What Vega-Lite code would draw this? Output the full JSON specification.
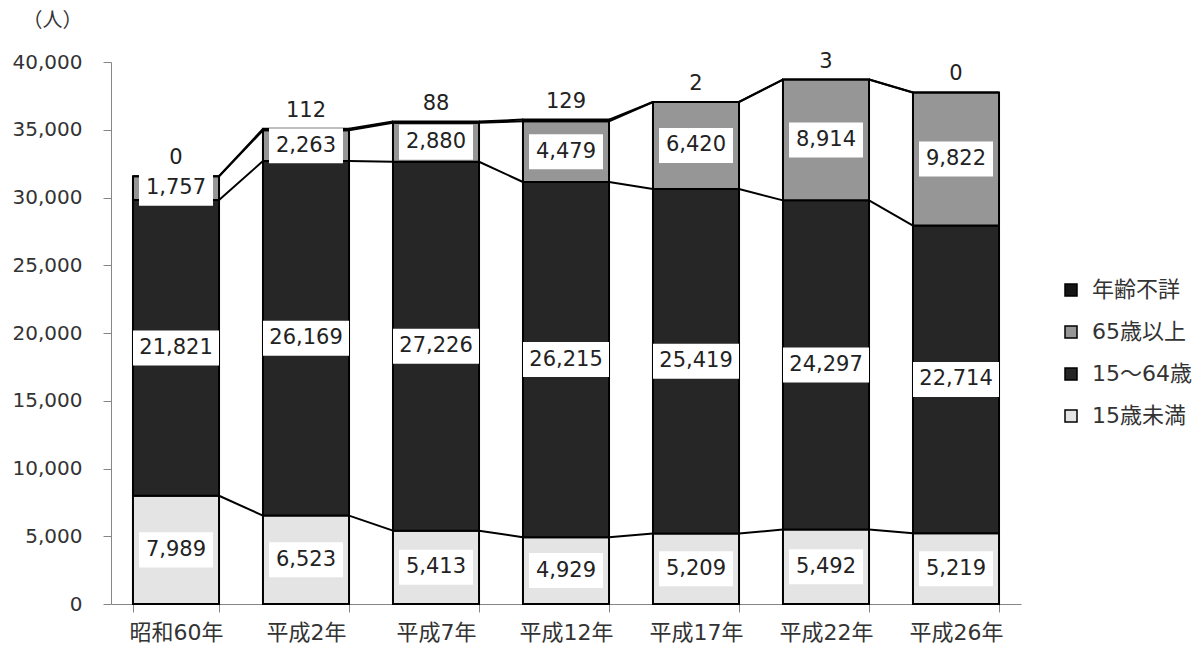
{
  "$schema": "https://vega.github.io/schema/vega-lite/v6.json",
  "width": 910,
  "height": 542,
  "autosize": {"type": "none"},
  "padding": {"left": 111, "top": 62, "right": 172, "bottom": 45},
  "background": "white",
  "config": {
    "view": {"stroke": null},
    "font": "DejaVu Sans, Noto Sans CJK JP"
  },
  "data": {
    "values": [
      {"year": "昭和60年", "yi": 0, "group": "15歳未満", "o": 1, "value": 7989},
      {"year": "昭和60年", "yi": 0, "group": "15～64歳", "o": 2, "value": 21821},
      {"year": "昭和60年", "yi": 0, "group": "65歳以上", "o": 3, "value": 1757},
      {"year": "昭和60年", "yi": 0, "group": "年齢不詳", "o": 4, "value": 0},
      {"year": "平成2年", "yi": 1, "group": "15歳未満", "o": 1, "value": 6523},
      {"year": "平成2年", "yi": 1, "group": "15～64歳", "o": 2, "value": 26169},
      {"year": "平成2年", "yi": 1, "group": "65歳以上", "o": 3, "value": 2263},
      {"year": "平成2年", "yi": 1, "group": "年齢不詳", "o": 4, "value": 112},
      {"year": "平成7年", "yi": 2, "group": "15歳未満", "o": 1, "value": 5413},
      {"year": "平成7年", "yi": 2, "group": "15～64歳", "o": 2, "value": 27226},
      {"year": "平成7年", "yi": 2, "group": "65歳以上", "o": 3, "value": 2880},
      {"year": "平成7年", "yi": 2, "group": "年齢不詳", "o": 4, "value": 88},
      {"year": "平成12年", "yi": 3, "group": "15歳未満", "o": 1, "value": 4929},
      {"year": "平成12年", "yi": 3, "group": "15～64歳", "o": 2, "value": 26215},
      {"year": "平成12年", "yi": 3, "group": "65歳以上", "o": 3, "value": 4479},
      {"year": "平成12年", "yi": 3, "group": "年齢不詳", "o": 4, "value": 129},
      {"year": "平成17年", "yi": 4, "group": "15歳未満", "o": 1, "value": 5209},
      {"year": "平成17年", "yi": 4, "group": "15～64歳", "o": 2, "value": 25419},
      {"year": "平成17年", "yi": 4, "group": "65歳以上", "o": 3, "value": 6420},
      {"year": "平成17年", "yi": 4, "group": "年齢不詳", "o": 4, "value": 2},
      {"year": "平成22年", "yi": 5, "group": "15歳未満", "o": 1, "value": 5492},
      {"year": "平成22年", "yi": 5, "group": "15～64歳", "o": 2, "value": 24297},
      {"year": "平成22年", "yi": 5, "group": "65歳以上", "o": 3, "value": 8914},
      {"year": "平成22年", "yi": 5, "group": "年齢不詳", "o": 4, "value": 3},
      {"year": "平成26年", "yi": 6, "group": "15歳未満", "o": 1, "value": 5219},
      {"year": "平成26年", "yi": 6, "group": "15～64歳", "o": 2, "value": 22714},
      {"year": "平成26年", "yi": 6, "group": "65歳以上", "o": 3, "value": 9822},
      {"year": "平成26年", "yi": 6, "group": "年齢不詳", "o": 4, "value": 0}
    ]
  },
  "layer": [
    {
      "mark": {"type": "bar", "stroke": "black", "strokeWidth": 2},
      "encoding": {
        "x": {
          "field": "year",
          "type": "nominal",
          "scale": {
            "domain": ["昭和60年", "平成2年", "平成7年", "平成12年", "平成17年", "平成22年", "平成26年"],
            "paddingInner": 0.338,
            "paddingOuter": 0.169
          },
          "axis": {
            "title": null,
            "labelAngle": 0,
            "labelFontSize": 22,
            "labelColor": "#333333",
            "tickBand": "extent",
            "tickSize": 8,
            "labelPadding": 10,
            "domainColor": "#868686",
            "tickColor": "#868686"
          }
        },
        "y": {
          "field": "value",
          "type": "quantitative",
          "stack": "zero",
          "scale": {"domain": [0, 40000], "nice": false},
          "axis": {
            "values": [0, 5000, 10000, 15000, 20000, 25000, 30000, 35000, 40000],
            "format": ",d",
            "grid": false,
            "labelFontSize": 20,
            "labelColor": "#333333",
            "tickColor": "#868686",
            "domainColor": "#868686",
            "tickSize": 8,
            "labelPadding": 21,
            "title": "（人）",
            "titleAngle": 0,
            "titleX": -89,
            "titleY": -42,
            "titleAlign": "left",
            "titleBaseline": "middle",
            "titleFontSize": 20,
            "titleFontWeight": "normal",
            "titleColor": "#333333"
          }
        },
        "color": {
          "field": "group",
          "type": "nominal",
          "scale": {
            "domain": ["年齢不詳", "65歳以上", "15～64歳", "15歳未満"],
            "range": ["#151515", "#969696", "#262626", "#e4e4e4"]
          },
          "legend": {
            "title": null,
            "orient": "none",
            "legendX": 949,
            "legendY": 217,
            "symbolType": "square",
            "symbolSize": 144,
            "symbolStrokeColor": "black",
            "symbolStrokeWidth": 1.5,
            "labelFontSize": 22,
            "labelColor": "#333333",
            "rowPadding": 20,
            "labelOffset": 10
          }
        },
        "order": {"field": "o", "type": "quantitative"}
      }
    },
    {
      "transform": [
        {"stack": "value", "groupby": ["year"], "sort": [{"field": "o", "order": "ascending"}], "as": ["v0", "v1"]},
        {
          "window": [
            {"op": "lead", "field": "v1", "as": "nv1"},
            {"op": "lead", "field": "year", "as": "nyear"}
          ],
          "groupby": ["group"],
          "sort": [{"field": "yi", "order": "ascending"}]
        },
        {"filter": "datum.nyear != null"}
      ],
      "mark": {"type": "rule", "stroke": "black", "strokeWidth": 2},
      "encoding": {
        "x": {"field": "year", "type": "nominal", "bandPosition": 1},
        "x2": {"field": "nyear", "bandPosition": 0},
        "y": {"field": "v1", "type": "quantitative"},
        "y2": {"field": "nv1"}
      }
    },
    {
      "transform": [{"filter": "datum.group != '年齢不詳'"}],
      "mark": {"type": "point", "filled": true, "fill": "white", "opacity": 1, "strokeWidth": 0},
      "encoding": {
        "x": {"field": "year", "type": "nominal"},
        "y": {"field": "value", "type": "quantitative", "stack": "zero", "bandPosition": 0.5},
        "detail": {"field": "group"},
        "order": {"field": "o", "type": "quantitative"},
        "shape": {
          "condition": {"test": "datum.value >= 10000", "value": "M-1,-0.407H1V0.407H-1Z"},
          "value": "M-1,-0.473H1V0.473H-1Z"
        },
        "size": {
          "condition": {"test": "datum.value >= 10000", "value": 7396},
          "value": 5476
        }
      }
    },
    {
      "transform": [{"filter": "datum.group != '年齢不詳'"}],
      "mark": {"type": "text", "fontSize": 21, "color": "#222222", "baseline": "middle", "align": "center"},
      "encoding": {
        "x": {"field": "year", "type": "nominal"},
        "y": {"field": "value", "type": "quantitative", "stack": "zero", "bandPosition": 0.5},
        "detail": {"field": "group"},
        "order": {"field": "o", "type": "quantitative"},
        "text": {"field": "value", "type": "quantitative", "format": ","}
      }
    },
    {
      "transform": [
        {"stack": "value", "groupby": ["year"], "sort": [{"field": "o", "order": "ascending"}], "as": ["v0", "v1"]},
        {"filter": "datum.group == '年齢不詳'"}
      ],
      "mark": {"type": "text", "fontSize": 21, "color": "#222222", "baseline": "middle", "align": "center", "dy": -18},
      "encoding": {
        "x": {"field": "year", "type": "nominal"},
        "y": {"field": "v1", "type": "quantitative"},
        "text": {"field": "value", "type": "quantitative", "format": ","}
      }
    }
  ]
}
